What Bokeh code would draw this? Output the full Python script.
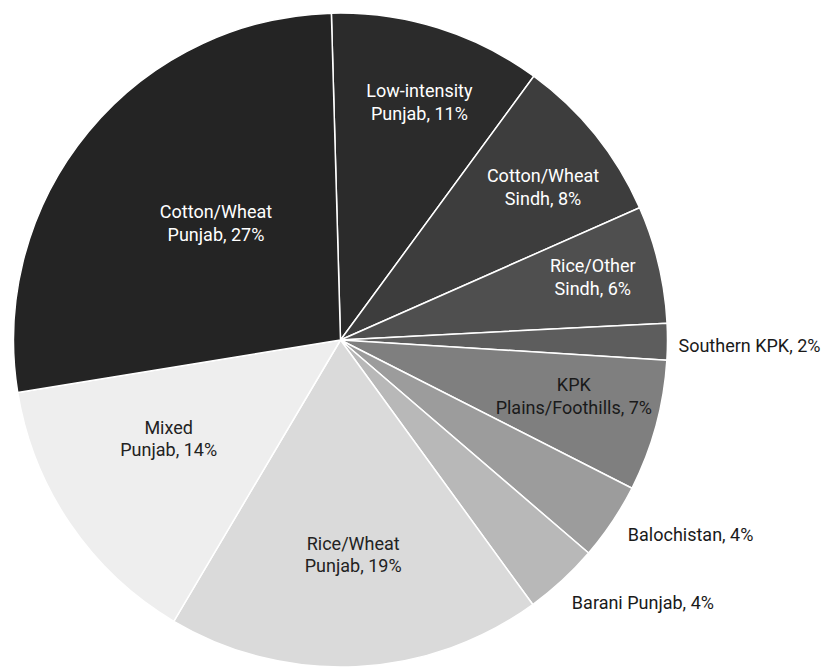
import math
from bokeh.plotting import figure
from bokeh.models import ColumnDataSource, Range1d
from bokeh.core.properties import value
from bokeh.embed import file_html
from bokeh.resources import INLINE

# Slices, clockwise from the top
names = ["Low-intensity\nPunjab, 11%", "Cotton/Wheat\nSindh, 8%", "Rice/Other\nSindh, 6%",
         "Southern KPK, 2%", "KPK\nPlains/Foothills, 7%", "Balochistan, 4%",
         "Barani Punjab, 4%", "Rice/Wheat\nPunjab, 19%", "Mixed\nPunjab, 14%",
         "Cotton/Wheat\nPunjab, 27%"]
shares = [10.5, 8.3, 5.8, 1.8, 6.5, 3.8, 3.7, 18.5, 13.9, 27.1]
colors = ["#2b2b2b", "#3d3d3d", "#4f4f4f", "#5d5d5d", "#7f7f7f", "#9c9c9c",
          "#b8b8b8", "#dadada", "#eeeeee", "#242424"]
text_colors = ["white", "white", "white", "#1a1a1a", "#1a1a1a", "#1a1a1a",
               "#1a1a1a", "#222222", "#222222", "white"]
outside = [False, False, False, True, False, True, True, False, False, False]
label_r = [251, 254, 260, 338, 240, 347, 350, 215, 198, 171]
label_shift = [1.0, 1.7, -0.6, 0.6, -1.7, 0.3, 1.3, -0.7, 4.5, 3.7]

W, H = 827, 667
cx, cy = 340, H - 339.5
R = 327
start_deg = 91.6
FONT = "Roboto"
FS = "18px"

total = sum(shares)
starts, ends, lx, ly = [], [], [], []
cum = 0.0
for i, s in enumerate(shares):
    a0 = start_deg - cum / total * 360.0
    a1 = start_deg - (cum + s) / total * 360.0
    starts.append(math.radians(a1))
    ends.append(math.radians(a0))
    mid = math.radians((a0 + a1) / 2.0 - label_shift[i])
    lx.append(cx + label_r[i] * math.cos(mid))
    ly.append(cy + label_r[i] * math.sin(mid))
    cum += s

p = figure(width=W, height=H, output_backend="svg", toolbar_location=None,
           x_range=Range1d(0, W), y_range=Range1d(0, H), min_border=0)
p.axis.visible = False
p.grid.visible = False
p.outline_line_color = None
p.background_fill_color = "white"

src = ColumnDataSource(dict(start=starts, end=ends, color=colors))
p.wedge(x=cx, y=cy, radius=R, start_angle="start", end_angle="end",
        fill_color="color", line_color="white", line_width=1.5, source=src)

inside_idx = [i for i in range(len(names)) if not outside[i]]
out_idx = [i for i in range(len(names)) if outside[i]]

src_in = ColumnDataSource(dict(x=[lx[i] for i in inside_idx], y=[ly[i] for i in inside_idx],
                               t=[names[i] for i in inside_idx],
                               c=[text_colors[i] for i in inside_idx]))
p.text(x="x", y="y", text="t", text_color="c", source=src_in,
       text_align="center", text_baseline="middle",
       text_font=value(FONT), text_font_size=FS, text_line_height=1.08)

src_out = ColumnDataSource(dict(x=[lx[i] for i in out_idx], y=[ly[i] for i in out_idx],
                                t=[names[i] for i in out_idx],
                                c=[text_colors[i] for i in out_idx]))
p.text(x="x", y="y", text="t", text_color="c", source=src_out,
       text_align="left", text_baseline="middle",
       text_font=value(FONT), text_font_size=FS)

open("out.html", "w").write(file_html(p, INLINE))
